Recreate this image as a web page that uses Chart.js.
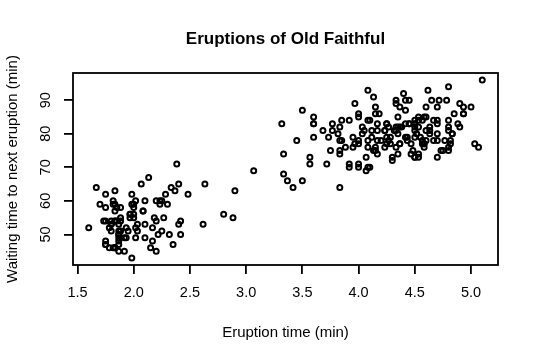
<!DOCTYPE html>
<html>
<head>
<meta charset="utf-8">
<script src="https://cdn.jsdelivr.net/npm/chart.js@4/dist/chart.umd.min.js"></script>
<style>
html,body{margin:0;padding:0;background:#fff;}
#wrap{width:536px;height:357px;position:relative;}
</style>
</head>
<body>
<div id="wrap"><canvas id="c" width="536" height="357"></canvas></div>
<script>
// Old Faithful: eruption duration (min) and waiting time (min)
const eruptions = [3.600,1.800,3.333,2.283,4.533,2.883,4.700,3.600,1.950,4.350,1.833,3.917,4.200,1.750,4.700,2.167,1.750,4.800,1.600,4.250,1.800,1.750,3.450,3.067,4.533,3.600,1.967,4.083,3.850,4.433,4.300,4.467,3.367,4.033,3.833,2.017,1.867,4.833,1.833,4.783,4.350,1.883,4.567,1.750,4.533,3.317,3.833,2.100,4.633,2.000,4.800,4.716,1.833,4.833,1.733,4.883,3.717,1.667,4.567,4.317,2.233,4.500,1.750,4.800,1.817,4.400,4.167,4.700,2.067,4.700,4.033,1.967,4.500,4.000,1.983,5.067,2.017,4.567,3.883,3.600,4.133,4.333,4.100,2.633,4.067,4.933,3.950,4.517,2.167,4.000,2.200,4.333,1.867,4.817,1.833,4.300,4.667,3.750,1.867,4.900,2.483,4.367,2.100,4.500,4.050,1.867,4.700,1.783,4.850,3.683,4.733,2.300,4.900,4.417,1.700,4.633,2.317,4.600,1.817,4.417,2.617,4.067,4.250,1.967,4.600,3.767,1.917,4.500,2.267,4.650,1.867,4.167,2.800,4.333,1.833,4.383,1.883,4.933,2.033,3.733,4.233,2.233,4.533,4.817,4.333,1.983,4.633,2.017,5.100,1.800,5.033,4.000,2.400,4.600,3.567,4.000,4.500,4.083,1.800,3.967,2.200,4.150,2.000,3.833,3.500,4.583,2.367,5.000,1.933,4.617,1.917,2.083,4.583,3.333,4.167,4.333,4.500,2.417,4.000,4.167,1.883,4.583,4.250,3.767,2.033,4.433,4.083,1.833,4.417,2.183,4.800,1.833,4.800,4.100,3.966,4.233,3.500,4.366,2.250,4.667,2.100,4.350,4.133,1.867,4.600,1.783,4.367,3.850,1.933,4.500,2.383,4.700,1.867,3.833,3.417,4.233,2.400,4.800,2.000,4.150,1.867,4.267,1.750,4.483,4.000,4.117,4.083,4.267,3.917,4.550,4.083,2.417,4.183,2.217,4.450,1.883,1.850,4.283,3.950,2.333,4.150,2.350,4.933,2.900,4.583,3.833,2.083,4.367,2.133,4.350,2.200,4.450,3.567,4.500,4.150,3.817,3.917,4.450,2.000,4.283,4.767,4.533,1.850,4.250,1.983,2.250,4.750,4.117,2.150,4.417,1.817,4.467];
const waiting = [79,54,74,62,85,55,88,85,51,85,54,84,78,47,83,52,62,84,52,79,51,47,78,69,74,83,55,76,78,79,73,77,66,80,74,52,48,80,59,90,80,58,84,58,73,83,64,53,82,59,75,90,54,80,54,83,71,64,77,81,59,84,48,82,60,92,78,78,65,73,82,56,79,71,62,76,60,78,76,83,75,82,70,65,73,88,76,80,48,86,60,90,50,78,63,72,84,75,51,82,62,88,49,83,81,47,84,52,86,81,75,59,89,79,59,81,50,85,59,87,53,69,77,56,88,81,45,82,55,90,45,83,56,89,46,82,51,86,53,79,81,60,82,77,76,59,80,49,96,53,77,77,65,81,71,70,81,93,53,89,45,86,58,78,66,76,63,88,52,93,49,57,77,68,81,81,73,50,85,74,55,77,83,83,51,78,84,46,83,55,81,57,76,84,77,81,87,77,51,78,60,82,91,53,78,46,77,84,49,83,71,80,49,75,64,76,53,94,55,76,50,82,54,75,78,79,78,78,70,79,70,54,86,50,90,54,54,77,79,64,75,47,86,63,85,82,57,82,67,74,54,83,73,73,88,80,71,83,56,79,78,84,58,83,43,60,75,81,46,90,46,74];
const xTicks = [1.5, 2.0, 2.5, 3.0, 3.5, 4.0, 4.5, 5.0];
const yTicks = [50, 60, 70, 80, 90];
const titleText = 'Eruptions of Old Faithful';
const xTitle = 'Eruption time (min)';
const yTitle = 'Waiting time to next eruption (min)';

const FONT = "'Liberation Sans', Arial, sans-serif";

// R-style 4% range extension
function ext(arr){const mn=Math.min(...arr), mx=Math.max(...arr), r=mx-mn; return [mn-0.04*r, mx+0.04*r];}
const [xmin,xmax] = ext(eruptions);
const [ymin,ymax] = ext(waiting);

const points = eruptions.map((e,i)=>({x:e, y:waiting[i]}));

const boxPlugin = {
  id:'boxAndYLabels',
  afterDraw(chart){
    const ctx = chart.ctx, a = chart.chartArea;
    ctx.save();
    ctx.strokeStyle = '#000';
    ctx.lineWidth = 1.8;
    ctx.strokeRect(a.left, a.top, a.right-a.left, a.bottom-a.top);
    // main title centred over the plot region (as in R)
    ctx.fillStyle = '#000';
    ctx.font = 'bold 17px ' + FONT;
    ctx.textAlign = 'center';
    ctx.textBaseline = 'middle';
    ctx.fillText(titleText, (a.left + a.right)/2, 39.5);
    // rotated y tick labels
    const ys = chart.scales.y;
    ctx.font = '14.5px ' + FONT;
    ctx.textAlign = 'center';
    ctx.textBaseline = 'alphabetic';
    yTicks.forEach(v=>{
      const py = ys.getPixelForValue(v);
      ctx.save();
      ctx.translate(49.5, py);
      ctx.rotate(-Math.PI/2);
      ctx.fillText(String(v), 0, 0);
      ctx.restore();
    });
    ctx.restore();
  }
};

new Chart(document.getElementById('c'), {
  type:'scatter',
  data:{datasets:[{
    data: points,
    pointStyle:'circle',
    pointRadius:2.5,
    pointHoverRadius:2.5,
    pointBorderWidth:2,
    pointBorderColor:'#000',
    pointBackgroundColor:'rgba(0,0,0,0)'
  }]},
  options:{
    responsive:false,
    animation:false,
    events:[],
    layout:{padding:{left:0,right:38,top:73,bottom:0}},
    plugins:{
      legend:{display:false},
      tooltip:{enabled:false},
      title:{display:false}
    },
    scales:{
      x:{
        type:'linear', min:xmin, max:xmax,
        afterBuildTicks(s){ s.ticks = xTicks.map(v=>({value:v})); },
        afterFit(s){ s.height = 92; },
        border:{display:false},
        grid:{drawOnChartArea:false, drawTicks:true, tickLength:9, color:'#000', lineWidth:1.8},
        ticks:{color:'#000', font:{family:FONT,size:14.5}, padding:10.5, maxRotation:0, autoSkip:false,
          callback:(v)=>Number(v).toFixed(1)},
        title:{display:true,text:xTitle,color:'#000',font:{family:FONT,size:15},padding:{top:0,bottom:15}}
      },
      y:{
        type:'linear', min:ymin, max:ymax,
        afterBuildTicks(s){ s.ticks = yTicks.map(v=>({value:v})); },
        afterFit(s){ s.width = 73; },
        border:{display:false},
        grid:{drawOnChartArea:false, drawTicks:true, tickLength:9, color:'#000', lineWidth:1.8},
        ticks:{display:true, color:'rgba(0,0,0,0)', font:{family:FONT,size:13}, padding:4},
        title:{display:true,text:yTitle,color:'#000',font:{family:FONT,size:15},padding:{top:4,bottom:0}}
      }
    }
  },
  plugins:[boxPlugin]
});
</script>
</body>
</html>
